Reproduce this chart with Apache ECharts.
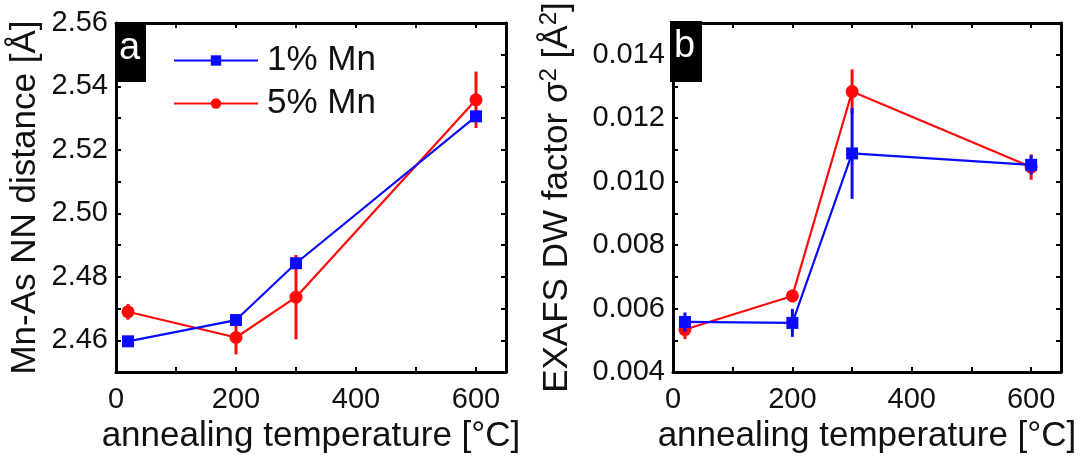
<!DOCTYPE html>
<html>
<head>
<meta charset="utf-8">
<script src="https://cdn.jsdelivr.net/npm/echarts@6/dist/echarts.min.js"></script>
<style>
  html, body { margin: 0; padding: 0; background: #fff; }
  #chart { width: 1081px; height: 459px; }
</style>
</head>
<body>
<div id="chart"></div>
<script>
// annealing temperatures (°C)
var temps = [20, 200, 300, 600];

// panel a: Mn-As NN distance (Å)
var dist1 = [2.4597, 2.4664, 2.4843, 2.5306];
var dist1Err = [0.001, 0.001, 0.001, 0.001];
var dist5 = [2.4690, 2.4609, 2.4736, 2.5358];
var dist5Err = [0.0025, 0.0053, 0.0133, 0.0089];

// panel b: EXAFS DW factor sigma^2 (Å^2)
var dw1 = [0.00558, 0.00555, 0.01089, 0.01053];
var dw1Err = [0.0003, 0.00044, 0.00143, 0.0003];
var dw5 = [0.00534, 0.0064, 0.01284, 0.01046];
var dw5Err = [0.0003, 0.0002, 0.0007, 0.0004];

var seriesNames = ['1% Mn', '5% Mn'];

var BLUE = '#0a0aff';
var RED = '#ff0a0a';
var FONT = 'Liberation Sans, Arial, sans-serif';

var chart = echarts.init(document.getElementById('chart'));

function pairs(vals) {
    return temps.map(function (t, i) { return [t, vals[i]]; });
}
function triples(vals, errs) {
    return temps.map(function (t, i) { return [t, vals[i], errs[i]]; });
}

//误差棒
function errRender(color) {
    return function (params, api) {
        var x = api.value(0), y = api.value(1), e = api.value(2);
        var p1 = api.coord([x, y - e]);
        var p2 = api.coord([x, y + e]);
        return {
            type: 'line',
            shape: {x1: p1[0], y1: p1[1], x2: p2[0], y2: p2[1]},
            style: {stroke: color, lineWidth: 3}
        };
    };
}

function xAxisOf(grid, top) {
    return {
        type: 'value',
        gridIndex: grid,
        position: top ? 'top' : 'bottom',
        min: 0,
        max: 650,
        interval: 100,
        name: top ? '' : 'annealing temperature [°C]',
        nameLocation: 'middle',
        nameGap: 43,
        nameTextStyle: {color: '#111', fontSize: 35, fontFamily: FONT},
        axisLine: {show: true, onZero: false, lineStyle: {color: '#000', width: 3}},
        axisTick: {show: true, inside: true, length: 5, lineStyle: {color: '#000', width: 2}},
        axisLabel: {
            show: !top,
            margin: 13,
            color: '#111',
            fontSize: 29,
            fontFamily: FONT,
            formatter: function (v) { return v % 200 === 0 ? String(v) : ''; }
        },
        splitLine: {show: false}
    };
}

function yAxisOf(grid, right, min, max, step, digits, name, gap, margin) {
    return {
        type: 'value',
        gridIndex: grid,
        position: right ? 'right' : 'left',
        min: min,
        max: max,
        interval: step,
        name: right ? '' : name,
        nameLocation: 'middle',
        nameRotate: 90,
        nameGap: gap,
        nameTextStyle: {
            color: '#111', fontSize: 35, fontFamily: FONT,
            rich: {
                sup: {fontSize: 24, fontFamily: FONT, color: '#111', verticalAlign: 'top', padding: [0, 0, 16, 0]}
            }
        },
        axisLine: {show: true, onZero: false, lineStyle: {color: '#000', width: 3}},
        axisTick: {show: true, inside: true, length: 5, lineStyle: {color: '#000', width: 2}},
        axisLabel: {
            show: !right,
            margin: margin,
            color: '#111',
            fontSize: 29,
            fontFamily: FONT,
            formatter: function (v) {
                var k = Math.round(v / step);
                return k % 2 === 0 ? v.toFixed(digits) : '';
            }
        },
        splitLine: {show: false}
    };
}

function lineSeries(name, xi, yi, vals, color, symbol, size) {
    return {
        name: name,
        type: 'line',
        xAxisIndex: xi,
        yAxisIndex: yi,
        data: pairs(vals),
        symbol: symbol,
        symbolSize: size,
        showSymbol: true,
        z: color === BLUE ? 4 : 3,
        lineStyle: {color: color, width: 2.2},
        itemStyle: {color: color},
        emphasis: {disabled: true}
    };
}

function errSeries(xi, yi, vals, errs, color) {
    return {
        name: 'err',
        type: 'custom',
        xAxisIndex: xi,
        yAxisIndex: yi,
        data: triples(vals, errs),
        renderItem: errRender(color),
        z: color === BLUE ? 4 : 3,
        silent: true
    };
}

chart.setOption({
    animation: false,
    grid: [
        {left: 116, top: 23, width: 390, height: 355},
        {left: 673, top: 23, width: 388, height: 355}
    ],
    xAxis: [xAxisOf(0, false), xAxisOf(0, true), xAxisOf(1, false), xAxisOf(1, true)],
    yAxis: [
        yAxisOf(0, false, 2.45, 2.56, 0.01, 2, 'Mn-As NN distance [Å]', 73, 8),
        yAxisOf(0, true, 2.45, 2.56, 0.01, 2, '', 0, 8),
        yAxisOf(1, false, 0.004, 0.015, 0.001, 3, 'EXAFS DW factor σ{sup|2} [Å{sup|2}]', 96, 8),
        yAxisOf(1, true, 0.004, 0.015, 0.001, 3, '', 0, 8)
    ],
    legend: {
        data: seriesNames,
        orient: 'vertical',
        left: 168,
        top: 38,
        itemWidth: 84,
        itemHeight: 13,
        itemGap: 8,
        textStyle: {color: '#111', fontSize: 35, fontFamily: FONT, padding: [0, 0, 0, 4]},
        selectedMode: false
    },
    series: [
        errSeries(0, 0, dist5, dist5Err, RED),
        lineSeries(seriesNames[1], 0, 0, dist5, RED, 'circle', 13),
        errSeries(0, 0, dist1, dist1Err, BLUE),
        lineSeries(seriesNames[0], 0, 0, dist1, BLUE, 'rect', 12),
        errSeries(2, 2, dw5, dw5Err, RED),
        lineSeries(seriesNames[1], 2, 2, dw5, RED, 'circle', 13),
        errSeries(2, 2, dw1, dw1Err, BLUE),
        lineSeries(seriesNames[0], 2, 2, dw1, BLUE, 'rect', 12)
    ],
    graphic: [
        {type: 'rect', left: 116, top: 22, shape: {width: 30, height: 60}, style: {fill: '#000'}, z: 10},
        {type: 'text', left: 119, top: 30, style: {text: 'a', fill: '#fff', font: '38px Liberation Sans, Arial, sans-serif'}, z: 11},
        {type: 'rect', left: 670, top: 21, shape: {width: 32, height: 61}, style: {fill: '#000'}, z: 10},
        {type: 'text', left: 674, top: 28, style: {text: 'b', fill: '#fff', font: '38px Liberation Sans, Arial, sans-serif'}, z: 11}
    ]
});
</script>
</body>
</html>
